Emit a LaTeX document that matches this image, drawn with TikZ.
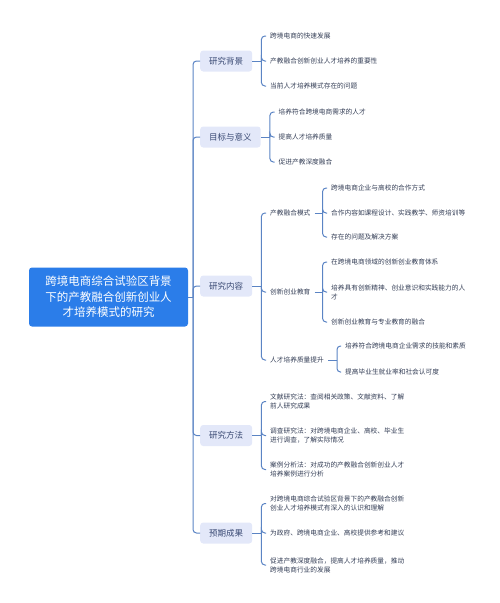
\documentclass[tikz,border=0pt]{standalone}
\usepackage{fontspec}
\setmainfont{Noto Sans CJK SC}
\definecolor{rootcol}{HTML}{2B7DE9}
\definecolor{l1col}{HTML}{E3E8F9}
\definecolor{l1text}{HTML}{3A4A74}
\definecolor{conncol}{HTML}{5B84C4}
\definecolor{leafcol}{HTML}{333D55}
\begin{document}
\begin{tikzpicture}[x=1pt,y=-1pt,
  conn/.style={draw=conncol, line width=1pt, rounded corners=3.5pt},
  rootnode/.style={fill=rootcol, text=white, rounded corners=3pt, minimum width=159pt, minimum height=59pt, align=center, inner sep=0pt, font=\fontsize{11.5}{15.5}\selectfont},
  lone/.style={fill=l1col, text=l1text, rounded corners=3pt, minimum height=21pt, inner xsep=9pt, inner ysep=0pt, anchor=west, font=\fontsize{8.5}{10}\selectfont},
  ltwo/.style={text=leafcol, inner xsep=4pt, inner ysep=1pt, anchor=west, font=\fontsize{6.7}{9}\selectfont},
  leaf/.style={text=leafcol, inner xsep=4pt, inner ysep=1pt, anchor=west, align=left, font=\fontsize{6.7}{9}\selectfont}]
\useasboundingbox (0,0) rectangle (500,603);

\node[rootnode] (root) at (108.5,297) {跨境电商综合试验区背景\\下的产教融合创新创业人\\才培养模式的研究};
\coordinate (rj) at (193,297);
\draw[conn] (root.east) -- (rj);

% level 1
\node[lone] (b1) at (200,61) {研究背景};
\node[lone] (b2) at (200,137) {目标与意义};
\node[lone] (b3) at (200,286) {研究内容};
\node[lone] (b4) at (200,435.5) {研究方法};
\node[lone] (b5) at (200,533) {预期成果};
\foreach \b in {b1,b2,b3,b4,b5} {\draw[conn] (rj) |- (\b.west);}

% 研究背景
\coordinate (j1) at ([xshift=9pt]b1.east);
\node[leaf] (a1) at (266,36) {跨境电商的快速发展};
\node[leaf] (a2) at (266,61) {产教融合创新创业人才培养的重要性};
\node[leaf] (a3) at (266,86) {当前人才培养模式存在的问题};
\draw[conn] (b1.east) -- (j1);
\foreach \l in {a1,a2,a3} {\draw[conn] (j1) |- (\l.west);}

% 目标与意义
\coordinate (j2) at ([xshift=9pt]b2.east);
\node[leaf] (g1) at (274.5,112) {培养符合跨境电商需求的人才};
\node[leaf] (g2) at (274.5,137) {提高人才培养质量};
\node[leaf] (g3) at (274.5,162) {促进产教深度融合};
\draw[conn] (b2.east) -- (j2);
\foreach \l in {g1,g2,g3} {\draw[conn] (j2) |- (\l.west);}

% 研究内容
\coordinate (j3) at ([xshift=9pt]b3.east);
\node[ltwo] (c1) at (266,213) {产教融合模式};
\node[ltwo] (c2) at (266,292) {创新创业教育};
\node[ltwo] (c3) at (266,360) {人才培养质量提升};
\draw[conn] (b3.east) -- (j3);
\foreach \l in {c1,c2,c3} {\draw[conn] (j3) |- (\l.west);}

\coordinate (k1) at ([xshift=8pt]c1.east);
\node[leaf] (d1) at (327,188) {跨境电商企业与高校的合作方式};
\node[leaf] (d2) at (327,213) {合作内容如课程设计、实践教学、师资培训等};
\node[leaf] (d3) at (327,237) {存在的问题及解决方案};
\draw[conn] (c1.east) -- (k1);
\foreach \l in {d1,d2,d3} {\draw[conn] (k1) |- (\l.west);}

\coordinate (k2) at ([xshift=8pt]c2.east);
\node[leaf] (e1) at (327,262) {在跨境电商领域的创新创业教育体系};
\node[leaf] (e2) at (327,292) {培养具有创新精神、创业意识和实践能力的人\\才};
\node[leaf] (e3) at (327,322) {创新创业教育与专业教育的融合};
\draw[conn] (c2.east) -- (k2);
\foreach \l in {e1,e2,e3} {\draw[conn] (k2) |- (\l.west);}

\coordinate (k3) at ([xshift=9pt]c3.east);
\node[leaf] (f1) at (341,346) {培养符合跨境电商企业需求的技能和素质};
\node[leaf] (f2) at (341,372) {提高毕业生就业率和社会认可度};
\draw[conn] (c3.east) -- (k3);
\foreach \l in {f1,f2} {\draw[conn] (k3) |- (\l.west);}

% 研究方法
\coordinate (j4) at ([xshift=9pt]b4.east);
\node[leaf] (m1) at (266,401.5) {文献研究法：查阅相关政策、文献资料、了解\\前人研究成果};
\node[leaf] (m2) at (266,435.5) {调查研究法：对跨境电商企业、高校、毕业生\\进行调查，了解实际情况};
\node[leaf] (m3) at (266,469.5) {案例分析法：对成功的产教融合创新创业人才\\培养案例进行分析};
\draw[conn] (b4.east) -- (j4);
\foreach \l in {m1,m2,m3} {\draw[conn] (j4) |- (\l.west);}

% 预期成果
\coordinate (j5) at ([xshift=9pt]b5.east);
\node[leaf] (r1) at (266,503.5) {对跨境电商综合试验区背景下的产教融合创新\\创业人才培养模式有深入的认识和理解};
\node[leaf] (r2) at (266,533) {为政府、跨境电商企业、高校提供参考和建议};
\node[leaf] (r3) at (266,565) {促进产教深度融合，提高人才培养质量，推动\\跨境电商行业的发展};
\draw[conn] (b5.east) -- (j5);
\foreach \l in {r1,r2,r3} {\draw[conn] (j5) |- (\l.west);}
\end{tikzpicture}
\end{document}
